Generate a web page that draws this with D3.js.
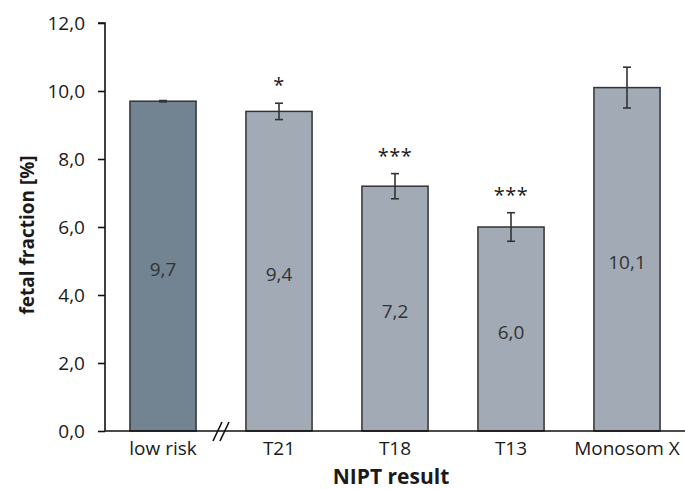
<!DOCTYPE html>
<html>
<head>
<meta charset="utf-8">
<script src="https://cdn.jsdelivr.net/npm/d3@7"></script>
<style>
  body { margin: 0; background: #fff; }
  text { font-family: "Open Sans", sans-serif; fill: #1a1a1a; }
</style>
</head>
<body>
<div id="container"></div>
<script>
// data
let categories = ["low risk", "T21", "T18", "T13", "Monosom X"];
let values = [9.7, 9.4, 7.2, 6.0, 10.1];
let errors = [0.02, 0.24, 0.37, 0.42, 0.6];
let stars = ["", "*", "***", "***", ""];
let yTicks = [0, 2, 4, 6, 8, 10, 12];

let w = 685;
let h = 489;
let xLeft = 105;
let xRight = 685;
let yTop = 23;
let yBottom = 431;

let viz = d3.select("#container")
  .append("svg")
    .attr("width", w)
    .attr("height", h)
;

let xScale = d3.scaleBand()
  .domain(categories)
  .range([xLeft, xRight])
  .paddingInner(0.43)
  .paddingOuter(0.215)
;
let yScale = d3.scaleLinear().domain([0, 12]).range([yBottom, yTop]);

let comma = function(v){ return d3.format(".1f")(v).replace(".", ","); };

// bars
viz.selectAll(".bar")
  .data(values)
  .enter()
  .append("rect")
    .attr("class", "bar")
    .attr("x", function(d, i){ return xScale(categories[i]); })
    .attr("y", function(d){ return yScale(d); })
    .attr("width", xScale.bandwidth())
    .attr("height", function(d){ return yScale(0) - yScale(d); })
    .attr("fill", function(d, i){ return i == 0 ? "#728392" : "#a2abb5"; })
    .attr("stroke", "#333")
    .attr("stroke-width", 1.5)
;

// value labels in the middle of each bar
viz.selectAll(".vlabel")
  .data(values)
  .enter()
  .append("text")
    .attr("class", "vlabel")
    .attr("x", function(d, i){ return xScale(categories[i]) + xScale.bandwidth()/2; })
    .attr("y", function(d){ return (yScale(d) + yScale(0))/2 + 3; })
    .attr("dy", "0.35em")
    .attr("text-anchor", "middle")
    .style("font-size", "19px")
    .style("fill", "#333")
    .text(comma)
;

// error bars
let errG = viz.selectAll(".err")
  .data(values)
  .enter()
  .append("g")
    .attr("class", "err")
    .attr("stroke", "#333")
    .attr("stroke-width", 1.6)
;
errG.append("line")
  .attr("x1", function(d, i){ return xScale(categories[i]) + xScale.bandwidth()/2; })
  .attr("x2", function(d, i){ return xScale(categories[i]) + xScale.bandwidth()/2; })
  .attr("y1", function(d, i){ return yScale(d + errors[i]); })
  .attr("y2", function(d, i){ return yScale(d - errors[i]); })
;
[1, -1].forEach(function(sign){
  errG.append("line")
    .attr("x1", function(d, i){ return xScale(categories[i]) + xScale.bandwidth()/2 - 4; })
    .attr("x2", function(d, i){ return xScale(categories[i]) + xScale.bandwidth()/2 + 4; })
    .attr("y1", function(d, i){ return yScale(d + sign*errors[i]); })
    .attr("y2", function(d, i){ return yScale(d + sign*errors[i]); })
  ;
});

// significance stars
viz.selectAll(".star")
  .data(values)
  .enter()
  .append("text")
    .attr("class", "star")
    .attr("x", function(d, i){ return xScale(categories[i]) + xScale.bandwidth()/2; })
    .attr("y", function(d, i){ return yScale(d + errors[i]) - 11; })
    .attr("text-anchor", "middle")
    .style("font-size", "20px")
    .style("letter-spacing", "0.5px")
    .text(function(d, i){ return stars[i]; })
;

// y axis
let yAxis = d3.axisLeft(yScale)
  .tickValues(yTicks)
  .tickSize(7)
  .tickPadding(13)
  .tickFormat(comma)
;
let yAxisGroup = viz.append("g")
    .attr("class", "yaxisgroup")
    .attr("transform", "translate(" + xLeft + ",0)")
    .call(yAxis)
;
yAxisGroup.select(".domain").attr("d", "M-7," + yTop + "H0V" + yBottom).attr("stroke", "#111").attr("stroke-width", 1.6);
yAxisGroup.selectAll(".tick line").attr("stroke", "#111").attr("stroke-width", 1.6);
yAxisGroup.selectAll(".tick text").style("font-size", "19px").style("font-family", "'Open Sans', sans-serif").attr("fill", "#1a1a1a");

// x axis
let xAxis = d3.axisBottom(xScale).tickSize(0).tickPadding(11);
let xAxisGroup = viz.append("g")
    .attr("class", "xaxisgroup")
    .attr("transform", "translate(0," + yBottom + ")")
    .call(xAxis)
;
xAxisGroup.select(".domain").attr("d", "M" + xLeft + ",0H" + xRight).attr("stroke", "#111").attr("stroke-width", 1.6);
xAxisGroup.selectAll(".tick text").style("font-size", "19px").style("font-family", "'Open Sans', sans-serif").attr("fill", "#1a1a1a");

// axis break between first and second category
let breakX = (xScale(categories[0]) + xScale.bandwidth() + xScale(categories[1])) / 2;
[-3.5, 3.5].forEach(function(off){
  viz.append("line")
    .attr("x1", breakX + off - 4.5)
    .attr("y1", yBottom + 10)
    .attr("x2", breakX + off + 4.5)
    .attr("y2", yBottom - 9)
    .attr("stroke", "#111")
    .attr("stroke-width", 1.6)
  ;
});

// axis titles
viz.append("text")
  .attr("x", 391)
  .attr("y", 484)
  .attr("text-anchor", "middle")
  .style("font-size", "21px")
  .style("font-weight", "bold")
  .text("NIPT result")
;
viz.append("text")
  .attr("transform", "translate(34," + ((yTop + yBottom) / 2 + 8) + ") rotate(-90)")
  .attr("text-anchor", "middle")
  .style("font-size", "19px")
  .style("font-weight", "bold")
  .text("fetal fraction [%]")
;
</script>
</body>
</html>
